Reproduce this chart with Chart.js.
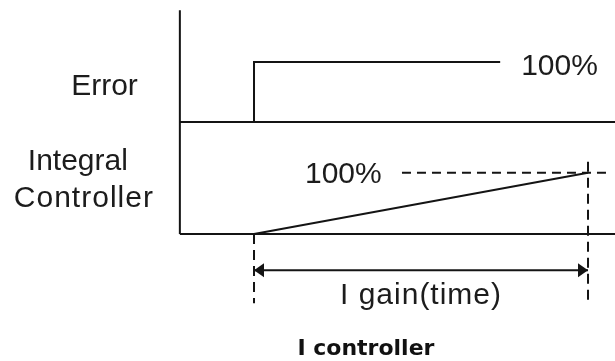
<!DOCTYPE html>
<html>
<head>
<meta charset="utf-8">
<script src="https://cdn.jsdelivr.net/npm/chart.js@4/dist/chart.umd.min.js"></script>
<style>
  html, body { margin: 0; padding: 0; background: #fff; }
  #wrap { width: 615px; height: 361px; position: relative; }
</style>
</head>
<body>
<div id="wrap"><canvas id="iChart"></canvas></div>
<script>
// time is in units of the I gain (step at 0, integral reaches 100% at 1)
const axisTime = -0.222;
const endTime = 1.081;
const axisTop = 365;            // top of the vertical axis, integral-panel units

// error panel: step input
const errorTime = [0, 0, 0.737];
const errorValue = [0, 100, 100];

// integral controller panel: ramp
const integralTime = [0, 1];
const integralValue = [0, 100];

// dashed 100% reference and I gain markers
const refTime = [0.443, 1.06];
const refValue = [100, 100];
const markerTop = 118;
const markerBottom = -113;
const arrowLevel = -59;

// texts
const levelText = '100%';
const errorText = 'Error';
const integralText = ['Integral', 'Controller'];
const gainText = 'I gain(time)';
const captionText = 'I controller';

const ink = '#141414';
const textInk = '#1c1c1c';

function pts(xs, ys) {
  return xs.map((x, i) => ({ x: x, y: ys[i] }));
}

function line(data, axis, dash) {
  return {
    data: data,
    yAxisID: axis,
    showLine: true,
    borderColor: ink,
    borderWidth: 2,
    borderDash: dash || [],
    pointRadius: 0,
    fill: false,
    tension: 0
  };
}

const datasets = [
  // frame
  line(pts([axisTime, axisTime], [axisTop, 0]), 'yI'),
  line(pts([axisTime, endTime], [0, 0]), 'yE'),
  line(pts([axisTime, endTime], [0, 0]), 'yI'),
  // signals
  line(pts(errorTime, errorValue), 'yE'),
  line(pts(integralTime, integralValue), 'yI'),
  // dashed guides
  line(pts(refTime, refValue), 'yI', [9, 6]),
  line(pts([0, 0], [0, markerBottom]), 'yI', [10, 6]),
  line(pts([1, 1], [markerTop, markerBottom]), 'yI', [10, 6]),
  // I gain span arrow
  line(pts([0, 1], [arrowLevel, arrowLevel]), 'yI')
];
const arrowIndex = datasets.length - 1;

const arrowHeads = {
  id: 'arrowHeads',
  afterDatasetsDraw(chart) {
    const p = chart.getDatasetMeta(arrowIndex).data;
    const ctx = chart.ctx;
    ctx.save();
    ctx.fillStyle = ink;
    [[p[0], 1], [p[1], -1]].forEach(([pt, dir]) => {
      ctx.beginPath();
      ctx.moveTo(pt.x, pt.y);
      ctx.lineTo(pt.x + dir * 10, pt.y - 7);
      ctx.lineTo(pt.x + dir * 10, pt.y + 7);
      ctx.closePath();
      ctx.fill();
    });
    ctx.restore();
  }
};

const textLabels = {
  id: 'textLabels',
  afterDraw(chart) {
    const ctx = chart.ctx;
    const x = chart.scales.x, yE = chart.scales.yE, yI = chart.scales.yI;
    const ax = x.getPixelForValue(axisTime);
    ctx.save();
    ctx.fillStyle = textInk;
    ctx.textBaseline = 'alphabetic';
    ctx.font = '30px "Liberation Sans", Arial, sans-serif';

    ctx.textAlign = 'right';
    ctx.fillText(errorText, ax - 42, yE.getPixelForValue(0) - 27);

    ctx.textAlign = 'center';
    ctx.fillText(integralText[0], ax - 102, yI.getPixelForValue(100) - 3);
    ctx.letterSpacing = '1px';
    ctx.fillText(integralText[1], ax - 96, yI.getPixelForValue(100) + 34);
    ctx.letterSpacing = '0px';

    ctx.textAlign = 'left';
    ctx.fillText(levelText, x.getPixelForValue(errorTime[2]) + 21, yE.getPixelForValue(100) + 13);
    ctx.fillText(levelText, x.getPixelForValue(refTime[0]) - 97, yI.getPixelForValue(100) + 10);

    ctx.textAlign = 'center';
    ctx.letterSpacing = '1px';
    ctx.fillText(gainText, x.getPixelForValue(0.5), yI.getPixelForValue(arrowLevel) + 34);
    ctx.letterSpacing = '0px';

    ctx.font = 'bold 22px "DejaVu Sans", sans-serif';
    ctx.fillStyle = '#111';
    ctx.fillText(captionText, x.getPixelForValue(0.335), yI.getPixelForValue(arrowLevel) + 85);
    ctx.restore();
  }
};

new Chart(document.getElementById('iChart'), {
  type: 'scatter',
  data: { datasets: datasets },
  options: {
    responsive: true,
    maintainAspectRatio: false,
    animation: false,
    events: [],
    layout: { padding: 0 },
    plugins: {
      legend: { display: false },
      tooltip: { enabled: false },
      title: { display: false }
    },
    scales: {
      x: { type: 'linear', display: false, min: -0.7605, max: 1.0808 },
      yE: { type: 'linear', display: false, position: 'left', min: -398, max: 203.3 },
      yI: { type: 'linear', display: false, position: 'right', min: -207.2, max: 381.7 }
    }
  },
  plugins: [arrowHeads, textLabels]
});
</script>
</body>
</html>
